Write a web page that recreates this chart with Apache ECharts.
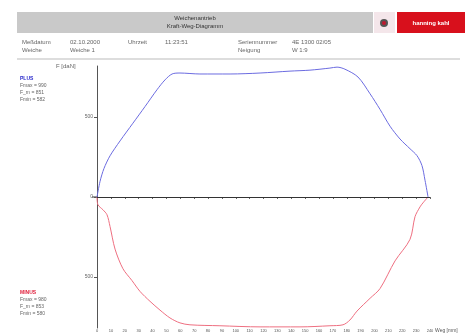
<!DOCTYPE html>
<html><head><meta charset="utf-8">
<script src="https://cdn.jsdelivr.net/npm/echarts@6/dist/echarts.min.js"></script>
<style>html,body{margin:0;padding:0;background:#fff}#c{width:469px;height:336px}</style>
</head><body><div id="c"></div>
<script>
// Weg in mm, Kraft in daN
const plusWeg   = [0,2.2,5.0,9.4,16.6,25.9,34.6,43.2,49.0,54.1,59.8,74.2,95.9,117.5,139.1,153.5,167.9,173.0,178.7,188.1,196.8,204.0,211.2,218.4,225.6,230.6,234.2,236.4,238.6];
const plusKraft = [0,98,178,258,351,462,566,671,733,770,776,770,770,776,788,794,807,813,800,751,646,548,443,363,302,259,197,105,0];
const minusWeg   = [0,0.7,4.3,7.2,9.4,13.0,18.7,25.2,31.0,38.2,45.4,52.6,59.8,67.0,88.6,117.5,146.3,167.9,177.3,182.3,187.4,196.8,204.0,214.8,225.6,229.2,232.8,234.9,238.6];
const minusKraft = [0,-49,-80,-111,-185,-326,-449,-523,-591,-653,-708,-757,-788,-800,-806,-813,-813,-806,-800,-770,-714,-634,-573,-400,-265,-123,-62,-37,0];
const yTicks = [-500,0,500];
const plusInfo = ['PLUS','Fmax = 990','F_m = 851','Fmin = 582'];
const minusInfo = ['MINUS','Fmax = 980','F_m = 853','Fmin = 580'];

const chart = echarts.init(document.getElementById('c'));
const f = '"Liberation Sans", Arial, sans-serif';
function txt(x,y,t,o){return Object.assign({type:'text',left:x,top:y,style:{text:t,fontSize:6,fill:'#666',fontFamily:f}},o||{});}
const g = [
  {type:'rect',shape:{x:17,y:12,width:356,height:21},style:{fill:'#c9c9c9'}},
  {type:'text',x:195,y:15,style:{text:'Weichenantrieb',fontSize:6,fill:'#333',fontFamily:f,align:'center'}},
  {type:'text',x:195,y:23,style:{text:'Kraft-Weg-Diagramm',fontSize:6,fill:'#333',fontFamily:f,align:'center'}},
  {type:'rect',shape:{x:374,y:12,width:21,height:21},style:{fill:'#f4e6ea'}},
  {type:'circle',shape:{cx:384,cy:23,r:4},style:{fill:'#555'}},
  {type:'circle',shape:{cx:384,cy:23,r:2},style:{fill:'#c01830'}},
  {type:'rect',shape:{x:397,y:12,width:68,height:21},style:{fill:'#d8101c'}},
  {type:'text',x:431,y:20,style:{text:'hanning kahl',fontSize:6,fill:'#fff',fontFamily:f,align:'center',fontWeight:'bold'}},
  {type:'line',shape:{x1:17,y1:59,x2:460,y2:59},style:{stroke:'#bbb',lineWidth:1}},
  txt(22,39,'Meßdatum'),txt(70,39,'02.10.2000'),txt(128,39,'Uhrzeit'),txt(165,39,'11:23:51'),
  txt(238,39,'Seriennummer'),txt(292,39,'4E 1300 02/05'),
  txt(22,47,'Weiche'),txt(70,47,'Weiche 1'),txt(238,47,'Neigung'),txt(292,47,'W 1:9'),
  txt(56,63,'F [daN]'),
  txt(435,328,'Weg [mm]',{style:{text:'Weg [mm]',fontSize:5,fill:'#555',fontFamily:f}}),
  {type:'line',shape:{x1:92,y1:197,x2:97,y2:197},style:{stroke:'#333',lineWidth:1}}
];
plusInfo.forEach((t,i)=>g.push(txt(20,76+i*7,t,{style:{text:t,fontSize:5,fill:i===0?'#2a2acc':'#666',fontFamily:f,fontWeight:i===0?'bold':'normal'}})));
minusInfo.forEach((t,i)=>g.push(txt(20,290+i*7,t,{style:{text:t,fontSize:5,fill:i===0?'#e0203c':'#666',fontFamily:f,fontWeight:i===0?'bold':'normal'}})));

chart.setOption({
  animation:false,
  grid:{left:97,right:39,top:66,bottom:8},
  xAxis:{type:'value',min:0,max:240,interval:10,
    axisLine:{lineStyle:{color:'#555',width:1}},
    axisTick:{length:2,lineStyle:{color:'#666'}},
    axisLabel:{fontSize:4,color:'#555',margin:1,fontFamily:f},
    splitLine:{show:false}},
  yAxis:{type:'value',min:-820,max:820,
    axisLine:{show:true,lineStyle:{color:'#555',width:1}},
    axisTick:{show:true,length:3,customValues:yTicks,lineStyle:{color:'#555'}},
    axisLabel:{fontSize:5,color:'#666',margin:4,fontFamily:f,customValues:yTicks,formatter:v=>v===0?'0':String(Math.abs(v))},
    splitLine:{show:false}},
  graphic:g,
  series:[
    {type:'line',data:plusWeg.map((x,i)=>[x,plusKraft[i]]),showSymbol:false,smooth:0.3,
      lineStyle:{color:'#6b6be0',width:1},
      markLine:{silent:true,symbol:'none',label:{show:false},lineStyle:{color:'#333',width:1,type:'solid'},data:[{yAxis:0}]}},
    {type:'line',data:minusWeg.map((x,i)=>[x,minusKraft[i]]),showSymbol:false,smooth:0.3,
      lineStyle:{color:'#ee6f80',width:1}}
  ]
});
</script></body></html>
